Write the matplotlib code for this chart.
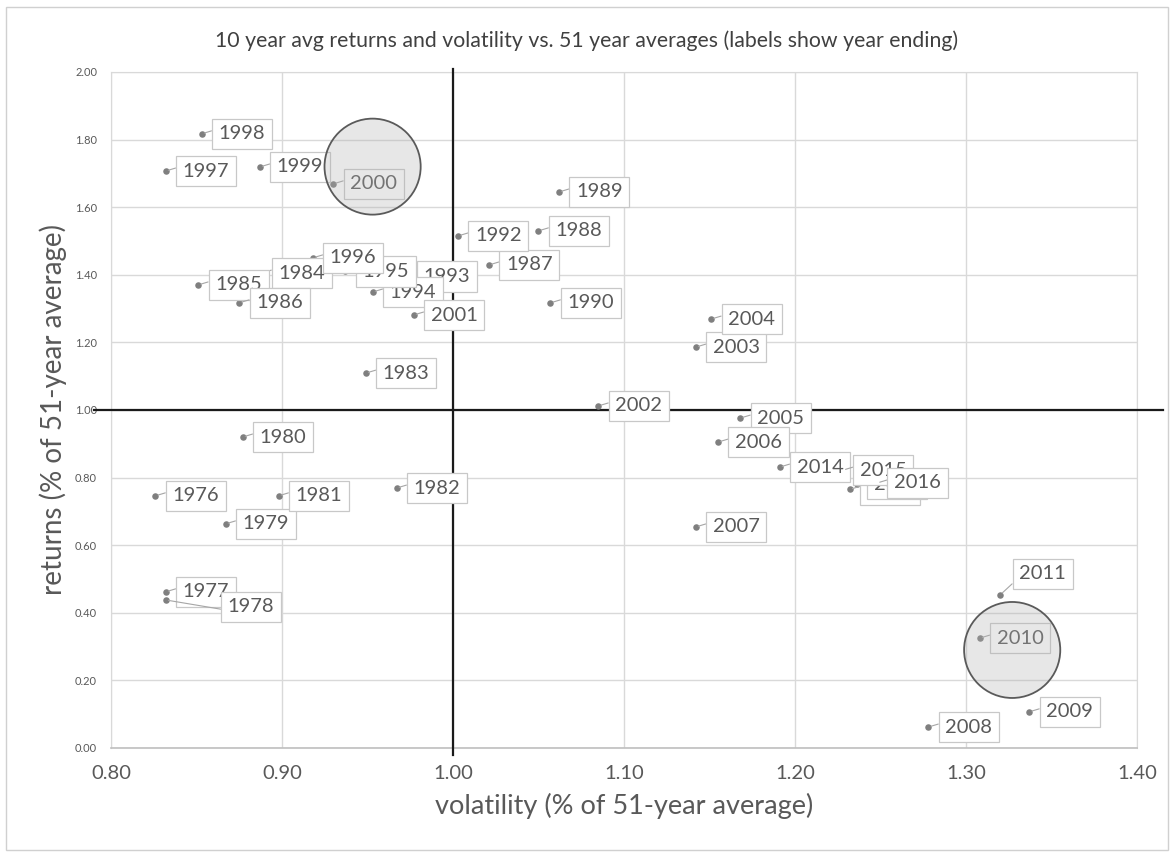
import matplotlib
matplotlib.use("Agg")
import matplotlib.pyplot as plt
from matplotlib.patches import Ellipse, Rectangle

plt.rcParams['font.family'] = ['Lato', 'DejaVu Sans']

# ---- data (volatility, returns as share of 51-year average) ----
years = ["1976", "1977", "1978", "1979", "1980", "1981", "1982", "1983",
         "1984", "1985", "1986", "1987", "1988", "1989", "1990", "1992",
         "1993", "1994", "1995", "1996", "1997", "1998", "1999", "2000",
         "2001", "2002", "2003", "2004", "2005", "2006", "2007", "2008",
         "2009", "2010", "2011", "2012", "2013", "2014", "2015", "2016"]
volatility = [0.826, 0.832, 0.832, 0.867, 0.877, 0.898, 0.967, 0.949,
              0.888, 0.851, 0.875, 1.021, 1.050, 1.062, 1.057, 1.003,
              0.973, 0.953, 0.937, 0.918, 0.832, 0.853, 0.887, 0.930,
              0.977, 1.085, 1.142, 1.151, 1.168, 1.155, 1.142, 1.278,
              1.337, 1.308, 1.320, 1.232, 1.236, 1.191, 1.228, 1.248]
returns = [0.746, 0.462, 0.438, 0.663, 0.920, 0.746, 0.769, 1.109,
           1.405, 1.370, 1.317, 1.429, 1.530, 1.645, 1.317, 1.515,
           1.395, 1.349, 1.410, 1.450, 1.707, 1.817, 1.719, 1.669,
           1.281, 1.012, 1.186, 1.269, 0.976, 0.905, 0.654, 0.062,
           0.107, 0.325, 0.453, 0.765, 0.780, 0.831, 0.822, 0.784]

# label offsets (pixels) that differ from the default
label_offsets = {"1978": (62, -7), "2011": (19, 21)}

# highlighted regions (centre x, centre y)
highlights = [(0.953, 1.72), (1.327, 0.29)]

x_ticks = [0.80, 0.90, 1.00, 1.10, 1.20, 1.30, 1.40]
y_ticks = [0.00, 0.20, 0.40, 0.60, 0.80, 1.00, 1.20, 1.40, 1.60, 1.80, 2.00]

title = "10 year avg returns and volatility vs. 51 year averages (labels show year ending)"
x_label = "volatility (% of 51-year average)"
y_label = "returns (% of 51-year average)"

TXT = "#595959"
GRID = "#d9d9d9"

fig = plt.figure(figsize=(11.74, 8.57), dpi=100)
fig.patches.append(Rectangle((0.005, 0.008), 0.99, 0.984, transform=fig.transFigure,
                             fill=False, edgecolor="#d0d0d0", linewidth=1.0, zorder=0))
ax = fig.add_axes([0.0945, 0.1272, 0.874, 0.7888])

ax.set_xlim(0.80, 1.40)
ax.set_ylim(0.00, 2.00)
ax.set_xticks(x_ticks)
ax.set_yticks(y_ticks)
ax.set_xticklabels([f"{t:.2f}" for t in x_ticks])
ax.set_yticklabels([f"{t:.2f}" for t in y_ticks])
ax.tick_params(axis='x', length=0, pad=12, labelsize=14.5, labelcolor=TXT)
ax.tick_params(axis='y', length=0, pad=10, labelsize=8, labelcolor=TXT)
ax.grid(True, color=GRID, linewidth=1.0)
ax.set_axisbelow(True)
for s in ["left", "top", "right"]:
    ax.spines[s].set_color(GRID)
ax.spines["bottom"].set_color("#bfbfbf")
ax.spines["bottom"].set_linewidth(1.2)

# quadrant lines
ax.plot([0.79, 1.415], [1.0, 1.0], color="#1a1a1a", lw=1.6, clip_on=False, zorder=3)
ax.plot([1.0, 1.0], [-0.02, 2.01], color="#1a1a1a", lw=1.6, clip_on=False, zorder=3)

ax.scatter(volatility, returns, s=22, color="#7f7f7f", zorder=4, linewidths=0)

for i, (yr, vx, ry) in enumerate(zip(years, volatility, returns)):
    dx, dy = label_offsets.get(yr, (17, 0))
    rel = (0.0, 0.8) if yr not in label_offsets else (0.0, 0.3)
    ax.annotate(yr, (vx, ry), xytext=(dx, dy), textcoords="offset pixels",
                ha="left", va="center", fontsize=14.5, color=TXT, zorder=5 + i * 0.01,
                bbox=dict(boxstyle="square,pad=0.33", fc="white", ec="#c8c8c8", lw=0.9),
                arrowprops=dict(arrowstyle="-", color="#a6a6a6", lw=0.8,
                                shrinkA=0, shrinkB=2, relpos=rel))

for cx, cy in highlights:
    e = Ellipse((cx, cy), width=96 / 1707, height=96 / 338, facecolor="#b0b0b0",
                alpha=0.3, edgecolor="none", zorder=8)
    ax.add_patch(e)
    e2 = Ellipse((cx, cy), width=96 / 1707, height=96 / 338, facecolor="none",
                 edgecolor="#5a5a5a", lw=1.3, zorder=8)
    ax.add_patch(e2)

ax.set_xlabel(x_label, fontsize=19.5, color=TXT, labelpad=8)
ax.set_ylabel(y_label, fontsize=20, color=TXT, labelpad=6)
fig.text(0.5, 0.953, title, ha="center", va="center", fontsize=15.3, color="#404040")

fig.savefig("out.png", dpi=100)
